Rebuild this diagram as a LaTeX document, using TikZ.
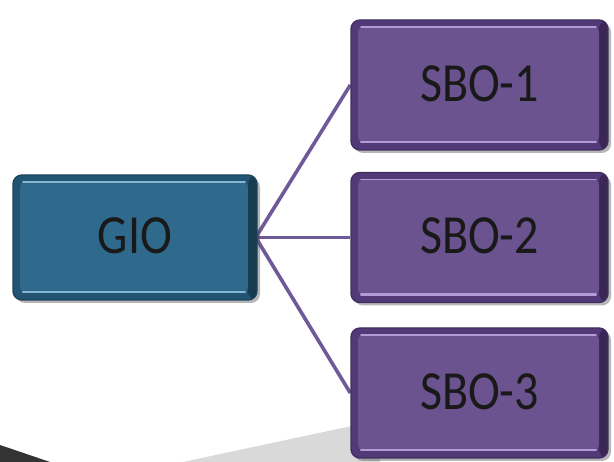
\documentclass[tikz,border=0pt]{standalone}
\usepackage{fontspec}
\setmainfont{Carlito}
\usetikzlibrary{shadows,backgrounds,calc}

\definecolor{gioface}{HTML}{2F6A8D}
\definecolor{giorim}{HTML}{235573}
\definecolor{giolight}{HTML}{86B6D2}
\definecolor{sboface}{HTML}{6B5390}
\definecolor{sborim}{HTML}{523A78}
\definecolor{sbolight}{HTML}{B29CD6}
\definecolor{linkcol}{HTML}{6E5A98}
\definecolor{swooshdark}{HTML}{333333}
\definecolor{swooshlight}{HTML}{D9D9D9}

% box labels are set slightly taller than wide
\newcommand\talltext[1]{\raisebox{3pt}{\scalebox{1}[1.15]{#1}}}

\tikzset{
  bevel/.style n args={3}{
    rectangle, rounded corners=9pt, draw=#2!80!black, line width=1.4pt,
    fill=#2,
    drop shadow={shadow xshift=3pt, shadow yshift=-3pt, opacity=0.4, fill=black!70},
    font=\fontsize{48}{50}\selectfont, text=black!90,
    path picture={
      % inner raised panel
      \fill[#1, rounded corners=5pt]
        ([shift={(7pt,-7pt)}]path picture bounding box.north west)
        rectangle ([shift={(-9pt,8pt)}]path picture bounding box.south east);
      % light rims along the top and bottom of the panel
      \draw[#3, line width=1.6pt, line cap=round]
        ([shift={(10pt,-7pt)}]path picture bounding box.north west)
        -- ([shift={(-12pt,-7pt)}]path picture bounding box.north east);
      \draw[#3, line width=2.2pt, line cap=round]
        ([shift={(10pt,8pt)}]path picture bounding box.south west)
        -- ([shift={(-12pt,8pt)}]path picture bounding box.south east);
      % darker shade on the right-hand bevel
      \fill[black, opacity=0.3]
        ([shift={(-9pt,0pt)}]path picture bounding box.north east)
        rectangle (path picture bounding box.south east);
    }
  },
  giobox/.style={bevel={gioface}{giorim}{giolight}, minimum width=244pt, minimum height=125pt},
  sbobox/.style={bevel={sboface}{sborim}{sbolight}, minimum width=257pt, minimum height=130pt},
  link/.style={draw=linkcol, line width=3.6pt}
}

\begin{document}
\begin{tikzpicture}[x=1pt,y=-1pt]
  \useasboundingbox (0,0) rectangle (614,462);

  \node[giobox] (gio) at (135,237.5) {\talltext{GIO}};
  \node[sbobox] (s1) at (479.5,85) {\talltext{SBO-1}};
  \node[sbobox] (s2) at (479.5,237.5) {\talltext{SBO-2}};
  \node[sbobox] (s3) at (479.5,393) {\talltext{SBO-3}};

  \begin{pgfonlayer}{background}
    % grey sweep along the bottom edge
    \fill[swooshdark] (0,445) -- (50,462) -- (0,462) -- cycle;
    \fill[swooshlight] (183,462) -- (300,437) -- (380,420) -- (380,462) -- cycle;
    % connectors
    \coordinate (hub) at ([xshift=-2pt]gio.east);
    \draw[link] (hub) -- (s1.west);
    \draw[link] (hub) -- (s2.west);
    \draw[link] (hub) -- (s3.west);
  \end{pgfonlayer}
\end{tikzpicture}
\end{document}
